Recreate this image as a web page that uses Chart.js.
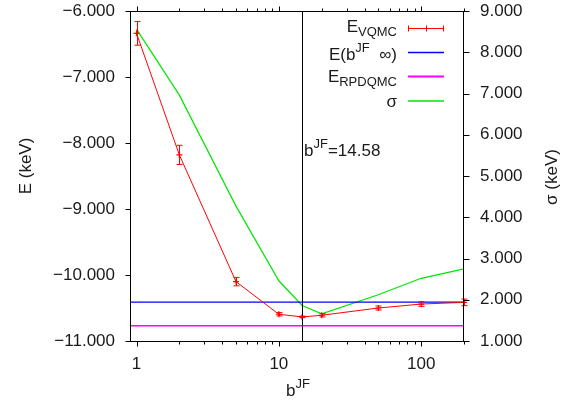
<!DOCTYPE html>
<html><head><meta charset="utf-8">
<script src="https://cdn.jsdelivr.net/npm/chart.js@4"></script>
<style>html,body{margin:0;padding:0;background:#fff}canvas{display:block}</style>
</head><body>
<canvas id="c" width="574" height="405"></canvas>
<script>
// ---- data ----
const bJF = [1, 2, 5, 10, 14.58, 20, 50, 100, 200];
const eVQMC = [-6.338, -8.18, -10.10, -10.595, -10.635, -10.61, -10.50, -10.44, -10.415];
const eVQMCerr = [0.18, 0.145, 0.064, 0.025, 0.012, 0.025, 0.03, 0.035, 0.05];
const sigma = [8.56, 6.96, 4.27, 2.46, 1.86, 1.66, 2.12, 2.52, 2.75];
const eInfinity = -10.41;
const eRPDQMC = -10.77;
const bJFopt = 14.58;
const xRange = [0.9, 200];
const eRange = [-11, -6];
const sigmaRange = [1, 9];
const eTicks = [-11, -10, -9, -8, -7, -6];
const sigmaTicks = [1, 2, 3, 4, 5, 6, 7, 8, 9];
const xMajorTicks = [1, 10, 100];
const xMinorTicks = [2, 3, 4, 5, 6, 7, 8, 9, 20, 30, 40, 50, 60, 70, 80, 90, 200];

const FONT = '"Liberation Sans", Arial, Helvetica, sans-serif';
const FS = 17, SS = 13;
const TXT = '#1a1a1a';
const GREEN = '#00e600';

function rich(ctx, parts, x, y, align) {
  let w = 0; const m = [];
  for (const [t, k] of parts) {
    ctx.font = (k ? SS : FS) + 'px ' + FONT;
    const ww = ctx.measureText(t).width; m.push(ww); w += ww;
  }
  let cx = align === 'right' ? x - w : align === 'center' ? x - w / 2 : x;
  ctx.textAlign = 'left'; ctx.textBaseline = 'alphabetic';
  parts.forEach(([t, k], i) => {
    ctx.font = (k ? SS : FS) + 'px ' + FONT;
    ctx.fillText(t, cx, y + (k === 1 ? -8.5 : k === -1 ? 3.6 : 0));
    cx += m[i];
  });
}

const deco = {
  id: 'deco',
  afterDatasetsDraw(chart) {
    const ctx = chart.ctx, x = chart.scales.x, yE = chart.scales.yE, a = chart.chartArea;
    ctx.save();
    const vx = Math.round(x.getPixelForValue(bJFopt)) + 0.5;
    ctx.strokeStyle = '#000'; ctx.lineWidth = 1;
    ctx.beginPath(); ctx.moveTo(vx, a.top); ctx.lineTo(vx, a.bottom); ctx.stroke();
    ctx.strokeStyle = '#ff0000'; ctx.lineWidth = 1;
    bJF.forEach((b, i) => {
      const px = Math.round(x.getPixelForValue(b)) + 0.5;
      const y1 = yE.getPixelForValue(eVQMC[i] + eVQMCerr[i]);
      const y2 = yE.getPixelForValue(eVQMC[i] - eVQMCerr[i]);
      ctx.beginPath();
      ctx.moveTo(px, y1); ctx.lineTo(px, y2);
      ctx.moveTo(px - 3, y1); ctx.lineTo(px + 3, y1);
      ctx.moveTo(px - 3, y2); ctx.lineTo(px + 3, y2);
      ctx.stroke();
    });
    ctx.restore();
  },
  afterDraw(chart) {
    const ctx = chart.ctx, x = chart.scales.x, yE = chart.scales.yE, yS = chart.scales.yS, a = chart.chartArea;
    ctx.save();
    ctx.strokeStyle = '#000'; ctx.lineWidth = 1;
    const L = Math.round(a.left) + 0.5, R = Math.round(a.right) - 0.5, T = Math.round(a.top) + 0.5, B = Math.round(a.bottom) + 0.5;
    ctx.strokeRect(L, T, R - L, B - T);
    ctx.beginPath();
    const xt = (v, len) => {
      const p = Math.round(x.getPixelForValue(v)) + 0.5;
      ctx.moveTo(p, B); ctx.lineTo(p, B + len);
      ctx.moveTo(p, T); ctx.lineTo(p, T - len);
    };
    xMajorTicks.forEach(v => xt(v, 5));
    xMinorTicks.forEach(v => xt(v, 3));
    eTicks.forEach(v => { const p = Math.round(yE.getPixelForValue(v)) + 0.5; ctx.moveTo(L, p); ctx.lineTo(L - 5, p); });
    sigmaTicks.forEach(v => { const p = Math.round(yS.getPixelForValue(v)) + 0.5; ctx.moveTo(R, p); ctx.lineTo(R + 6, p); });
    ctx.stroke();

    ctx.fillStyle = TXT;
    ctx.save(); ctx.translate(31, 166); ctx.rotate(-Math.PI / 2);
    ctx.font = FS + 'px ' + FONT; ctx.textAlign = 'center'; ctx.textBaseline = 'alphabetic';
    ctx.fillText('E (keV)', 0, 0); ctx.restore();
    ctx.save(); ctx.translate(557, 177); ctx.rotate(-Math.PI / 2);
    ctx.font = FS + 'px ' + FONT; ctx.textAlign = 'center'; ctx.textBaseline = 'alphabetic';
    ctx.fillText('σ (keV)', 0, 0); ctx.restore();
    rich(ctx, [['b', 0], ['JF', 1]], 298, 396, 'center');

    rich(ctx, [['b', 0], ['JF', 1], ['=14.58', 0]], 304, 156, 'left');

    const lx0 = 408, lx1 = 444, tr = 397;
    rich(ctx, [['E', 0], ['VQMC', -1]], tr, 32.3, 'right');
    rich(ctx, [['E(b', 0], ['JF', 1], ['  ∞)', 0]], tr, 60, 'right');
    rich(ctx, [['E', 0], ['RPDQMC', -1]], tr, 82, 'right');
    rich(ctx, [['σ', 0]], tr, 107, 'right');
    ctx.lineWidth = 1;
    ctx.strokeStyle = '#ff0000';
    ctx.beginPath();
    ctx.moveTo(lx0, 28.5); ctx.lineTo(lx1, 28.5);
    ctx.moveTo(lx0 + 0.5, 25.5); ctx.lineTo(lx0 + 0.5, 31.5);
    ctx.moveTo(lx1 - 0.5, 25.5); ctx.lineTo(lx1 - 0.5, 31.5);
    ctx.moveTo(426.5, 25.5); ctx.lineTo(426.5, 31.5);
    ctx.stroke();
    ctx.lineWidth = 1.3; ctx.strokeStyle = '#0000ff';
    ctx.beginPath(); ctx.moveTo(lx0, 52.5); ctx.lineTo(lx1, 52.5); ctx.stroke();
    ctx.lineWidth = 2; ctx.strokeStyle = '#ff00ff';
    ctx.beginPath(); ctx.moveTo(lx0, 76.5); ctx.lineTo(lx1, 76.5); ctx.stroke();
    ctx.lineWidth = 1.3; ctx.strokeStyle = GREEN;
    ctx.beginPath(); ctx.moveTo(lx0, 101); ctx.lineTo(lx1, 101); ctx.stroke();
    ctx.restore();
  }
};

const tickFont = { family: FONT, size: FS };
const noPad = s => { s.paddingTop = 0; s.paddingBottom = 0; s.paddingLeft = 0; s.paddingRight = 0; };
new Chart(document.getElementById('c'), {
  type: 'line',
  data: {
    datasets: [
      { label: 'E_VQMC', data: bJF.map((b, i) => ({ x: b, y: eVQMC[i] })), yAxisID: 'yE',
        borderColor: '#ff0000', borderWidth: 1, pointStyle: 'cross', pointRadius: 3,
        pointBorderColor: '#ff0000', pointBorderWidth: 1.2, tension: 0, clip: false },
      { label: 'E_inf', data: [{ x: xRange[0], y: eInfinity }, { x: xRange[1], y: eInfinity }], yAxisID: 'yE',
        borderColor: '#0000ff', borderWidth: 1.3, pointRadius: 0 },
      { label: 'E_RPDQMC', data: [{ x: xRange[0], y: eRPDQMC }, { x: xRange[1], y: eRPDQMC }], yAxisID: 'yE',
        borderColor: '#ff00ff', borderWidth: 1.6, pointRadius: 0 },
      { label: 'sigma', data: bJF.map((b, i) => ({ x: b, y: sigma[i] })), yAxisID: 'yS',
        borderColor: GREEN, borderWidth: 1.2, pointRadius: 0, tension: 0 }
    ]
  },
  options: {
    responsive: false, animation: false, devicePixelRatio: 1,
    layout: { padding: { top: 11, left: 0, right: 0, bottom: 0 } },
    plugins: { legend: { display: false }, tooltip: { enabled: false } },
    scales: {
      x: {
        type: 'logarithmic', min: xRange[0], max: xRange[1],
        grid: { display: false, drawTicks: false }, border: { display: false },
        afterBuildTicks: s => { s.ticks = xMajorTicks.map(v => ({ value: v })); },
        afterFit: s => { s.height = 64; noPad(s); },
        ticks: { font: tickFont, color: TXT, padding: 13, maxRotation: 0, autoSkip: false, callback: v => String(v) }
      },
      yE: {
        position: 'left', min: eRange[0], max: eRange[1],
        grid: { display: false, drawTicks: false }, border: { display: false },
        afterBuildTicks: s => { s.ticks = eTicks.map(v => ({ value: v })); },
        afterFit: s => { s.width = 130; noPad(s); },
        ticks: { font: tickFont, color: TXT, padding: 15, callback: v => (v < 0 ? '\u2212' : '') + Math.abs(v).toFixed(3) }
      },
      yS: {
        position: 'right', min: sigmaRange[0], max: sigmaRange[1],
        grid: { display: false, drawTicks: false }, border: { display: false },
        afterBuildTicks: s => { s.ticks = sigmaTicks.map(v => ({ value: v })); },
        afterFit: s => { s.width = 110; noPad(s); },
        ticks: { font: tickFont, color: TXT, padding: 16, callback: v => v.toFixed(3) }
      }
    }
  },
  plugins: [deco]
});
</script>
</body></html>
